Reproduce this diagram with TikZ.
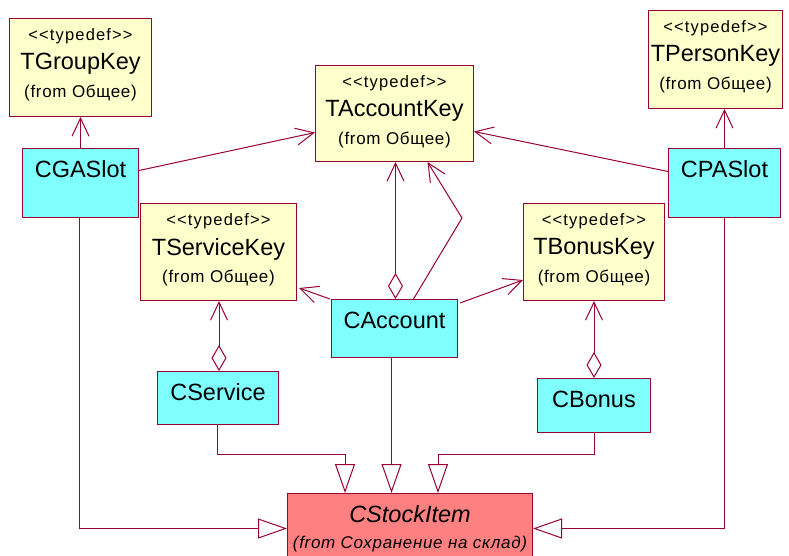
\documentclass[tikz,border=0pt]{standalone}
\usepackage{fontspec}
\setmainfont{Liberation Sans}[Ligatures=TeXOff]
\newfontfamily\smallspaced{Liberation Sans}[Ligatures=TeXOff, LetterSpace=4]
\newfontfamily\stereospaced{Liberation Sans}[Ligatures=TeXOff, LetterSpace=7]
\usetikzlibrary{arrows.meta,calc}

\definecolor{umlline}{RGB}{153,0,51}
\definecolor{keyfill}{RGB}{255,255,204}
\definecolor{classfill}{RGB}{128,255,255}
\definecolor{basefill}{RGB}{255,128,128}

% typedef box: name, left, top, width, height, title
\newcommand\keybox[6]{%
  \node[keyboxst, minimum width=#4pt, minimum height=#5pt] (#1) at (#2,#3) {};
  \node[stereotxt] (#1-st) at ($(#1.north)+(0,18)$) {<<typedef>>};
  \node[keytitle]  (#1-nm) at ($(#1.north)+(0,46)$) {#6};
  \node[fromtxt]   (#1-fr) at ($(#1.north)+(0,75)$) {(from Общее)};
}
% class box: name, left, top, width, height, title
\newcommand\classbox[6]{%
  \node[classboxst, minimum width=#4pt, minimum height=#5pt] (#1) at (#2,#3) {};
  \node[classtitle] (#1-nm) at ($(#1.north)+(0,21)$) {#6};
}

\begin{document}
\begin{tikzpicture}[x=1pt,y=-1pt,
  boxbase/.style={draw=umlline, line width=1pt, inner sep=0pt, anchor=north west},
  keyboxst/.style={boxbase, fill=keyfill},
  classboxst/.style={boxbase, fill=classfill},
  baseboxst/.style={boxbase, fill=basefill},
  stereotxt/.style={inner sep=0pt, font=\stereospaced\fontsize{16.5}{18}\selectfont},
  keytitle/.style={inner sep=0pt, font=\fontsize{23.5}{26}\selectfont},
  fromtxt/.style={inner sep=0pt, font=\smallspaced\fontsize{17}{19}\selectfont},
  classtitle/.style={inner sep=0pt, font=\fontsize{23.5}{26}\selectfont},
  conn/.style={draw=umlline, line width=1pt},
  dep/.style={conn, -{Straight Barb[length=18pt,width=17pt]}},
  agg/.style={conn, {Diamond[length=26pt,width=15pt,fill=white]}-{Straight Barb[length=18pt,width=17pt]}},
  gen/.style={conn, -{Triangle[length=29pt,width=20pt,fill=white]}},
]
\useasboundingbox (0,0) rectangle (789,555);
\clip (0,0) rectangle (789,555);

% typedef keys
\keybox{tgk}{9}{18}{142}{98}{TGroupKey}
\keybox{tak}{315}{65}{158}{96}{TAccountKey}
\keybox{tpk}{648}{10}{134}{98}{TPersonKey}
\keybox{tsk}{140}{203}{156}{97}{TServiceKey}
\keybox{tbk}{523}{203}{141}{97}{TBonusKey}

% classes
\classbox{cga}{22}{148}{116}{69}{CGASlot}
\classbox{cpa}{668}{148}{112}{69}{CPASlot}
\classbox{cacc}{331}{299}{126}{58}{CAccount}
\classbox{csvc}{157}{371}{121}{53}{CService}
\classbox{cbon}{537}{378}{113}{54}{CBonus}

% base class
\node[baseboxst, minimum width=245pt, minimum height=70pt] (csi) at (287,493) {};
\node[classtitle, font=\fontsize{23.5}{26}\selectfont\itshape] (csi-nm) at ($(csi.north)+(0,21)$) {CStockItem};
\node[fromtxt, font=\smallspaced\fontsize{17}{19}\selectfont\itshape] (csi-fr) at ($(csi.north)+(0,51)$) {(from Сохранение на склад)};

% dependencies
\draw[dep] (cga.north) -- (cga.north |- tgk.south);
\draw[dep] (cpa.north) -- (cpa.north |- tpk.south);
\draw[dep] ([yshift=12.5pt]cga.east) -- ([yshift=-19pt]tak.west);
\draw[dep] ([yshift=11.5pt]cpa.west) -- ([yshift=-18pt]tak.east);
\draw[dep] ([xshift=-1pt]cacc.north west) -- ([xshift=2pt,yshift=13pt]tsk.south east);
\draw[dep] ([xshift=2pt,yshift=-4pt]cacc.north east) -- ([yshift=21pt]tbk.south west);
\coordinate (bend) at (462,218);
\draw[dep] ([xshift=19pt]cacc.north) -- (bend) -- ([xshift=33pt]tak.south);

% aggregations
\draw[agg] ([xshift=1pt]cacc.north) -- ([xshift=1pt]cacc.north |- tak.south);
\draw[agg] ([xshift=1pt]csvc.north) -- ([xshift=1pt]csvc.north |- tsk.south);
\draw[agg] (cbon.north) -- (cbon.north |- tbk.south);

% generalizations
\draw[gen] ([xshift=-1pt]csvc.south) -- ++(0,29) -| ([xshift=58pt]csi.north west);
\draw[gen] ([xshift=-3pt]cacc.south) -- ([xshift=-3pt]cacc.south |- csi.north);
\draw[gen] (cbon.south) -- ++(0,21) -| ([xshift=151pt]csi.north west);
\draw[gen] ([xshift=-1pt]cga.south) |- (csi.west);
\draw[gen] (cpa.south) |- (csi.east);
\end{tikzpicture}
\end{document}
